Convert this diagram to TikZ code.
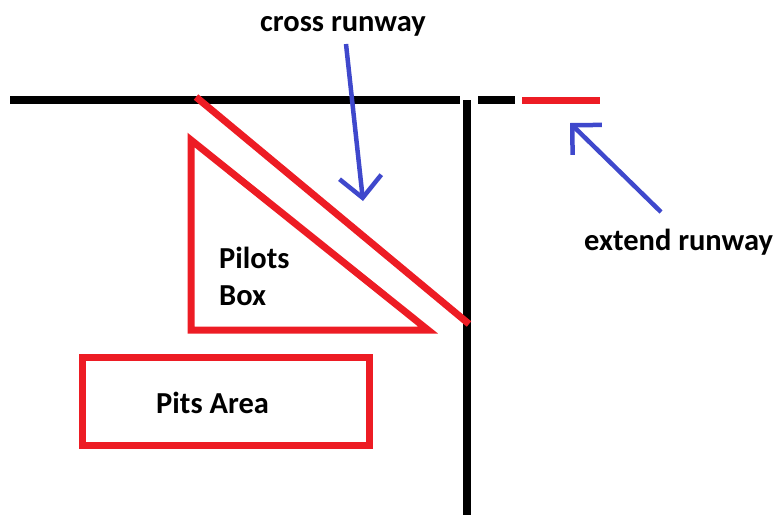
\documentclass[tikz,border=0pt]{standalone}
\usepackage{fontspec}
\setmainfont{Carlito}
\usetikzlibrary{arrows.meta}
\definecolor{paintRed}{RGB}{237,28,36}
\definecolor{paintBlue}{RGB}{63,72,204}
\tikzset{
    >={Straight Barb[length=21pt,width=42pt]},
    runway/.style={line width=7.5pt,black},
    redline/.style={line width=7pt,paintRed,line join=miter},
    pointer/.style={->,line width=4.5pt,paintBlue},
    lbl/.style={font=\fontsize{30.5}{36}\selectfont\bfseries,inner sep=0pt,anchor=base west},
}
\begin{document}
\begin{tikzpicture}[x=1pt,y=-1pt]
    \useasboundingbox (0,0) rectangle (777,515);

    % runways
    \draw[runway] (10,100) -- (460,100);
    \draw[runway] (467,100) -- (467,515);
    \draw[runway] (478,100) -- (515,100);
    \draw[redline] (522,100) -- (600,100);

    % cross runway, pilots box, pits
    \draw[redline] (196,97) -- (469,324);
    \draw[redline] (191,140) -- (191,330) -- (428,330) -- cycle;
    \draw[redline] (82,357) rectangle (369,445);

    \node[lbl] (pilots) at (219,268) {Pilots};
    \node[lbl] (box) at (219,305) {Box};
    \node[lbl] (pits) at (156,413) {Pits Area};
    \node[lbl] (cross) at (260,31) {cross runway};
    \node[lbl] (extend) at (584,250) {extend runway};

    \coordinate (crossFrom) at (346,44);
    \coordinate (crossTo) at (363,201);
    \coordinate (extFrom) at (661,212);
    \coordinate (extTo) at (570,123);
    \draw[pointer] (crossFrom) -- (crossTo);
    \draw[pointer] (extFrom) -- (extTo);
\end{tikzpicture}
\end{document}
